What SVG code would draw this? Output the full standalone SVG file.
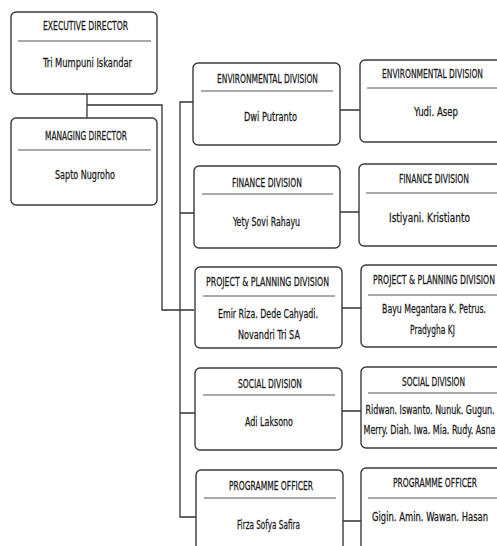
<svg xmlns="http://www.w3.org/2000/svg" width="497" height="546" viewBox="0 0 497 546">
<style>
.box{fill:#fff;stroke:#3a3a3a;stroke-width:1.4}
.div{stroke:#555;stroke-width:1}
.conn{fill:none;stroke:#333;stroke-width:1.3}
text{font-family:"DejaVu Sans Condensed","DejaVu Sans",sans-serif;font-size:12.5px;fill:#1a1a1a;stroke:#1a1a1a;stroke-width:0.25;text-anchor:middle}
</style>
<rect width="497" height="546" fill="#fff"/>
<g id="connectors">
<path class="conn" d="M87,94 V118 M87,105 H162 V310 H194"/>
<path class="conn" d="M194,102 H180 V517 H196"/>
<path class="conn" d="M180,213 H194 M180,413 H195"/>
<path class="conn" d="M340,110 H360 M340,212 H359 M342,308 H361 M342,411 H361 M343,521 H361"/>
</g>
<g id="exec">
<rect class="box" x="11" y="12" width="146" height="82" rx="5"/>
<line class="div" x1="18" y1="41" x2="151" y2="41"/>
<text transform="translate(85.5,30) scale(0.6,1)" textLength="141.7" lengthAdjust="spacingAndGlyphs">EXECUTIVE DIRECTOR</text>
<text transform="translate(87.5,67) scale(0.6,1)" textLength="148.3" lengthAdjust="spacingAndGlyphs">Tri Mumpuni Iskandar</text>
</g>
<g id="managing">
<rect class="box" x="11" y="118" width="146" height="87" rx="5"/>
<line class="div" x1="18" y1="150" x2="151" y2="150"/>
<text transform="translate(86,140) scale(0.6,1)" textLength="136.7" lengthAdjust="spacingAndGlyphs">MANAGING DIRECTOR</text>
<text transform="translate(85,179) scale(0.6,1)" textLength="100" lengthAdjust="spacingAndGlyphs">Sapto Nugroho</text>
</g>
<g id="env-l">
<rect class="box" x="193" y="63" width="147" height="82" rx="5"/>
<line class="div" x1="201" y1="91" x2="333" y2="91"/>
<text transform="translate(267.5,83) scale(0.6,1)" textLength="168.3" lengthAdjust="spacingAndGlyphs">ENVIRONMENTAL DIVISION</text>
<text transform="translate(270.5,121) scale(0.6,1)" textLength="88.3" lengthAdjust="spacingAndGlyphs">Dwi Putranto</text>
</g>
<g id="env-r">
<path class="box" d="M497,60 H365 A5,5 0 0 0 360,65 V137 A5,5 0 0 0 365,142 H497"/>
<line class="div" x1="367" y1="88" x2="497" y2="88"/>
<text transform="translate(432.5,78) scale(0.6,1)" textLength="168.3" lengthAdjust="spacingAndGlyphs">ENVIRONMENTAL DIVISION</text>
<text transform="translate(436,116) scale(0.6,1)" textLength="73.3" lengthAdjust="spacingAndGlyphs">Yudi. Asep</text>
</g>
<g id="fin-l">
<rect class="box" x="194" y="166" width="146" height="82" rx="5"/>
<line class="div" x1="202" y1="194" x2="333" y2="194"/>
<text transform="translate(267,187) scale(0.6,1)" textLength="116.7" lengthAdjust="spacingAndGlyphs">FINANCE DIVISION</text>
<text transform="translate(266.5,226) scale(0.6,1)" textLength="111.7" lengthAdjust="spacingAndGlyphs">Yety Sovi Rahayu</text>
</g>
<g id="fin-r">
<path class="box" d="M497,164 H364 A5,5 0 0 0 359,169 V241 A5,5 0 0 0 364,246 H497"/>
<line class="div" x1="366" y1="193" x2="497" y2="193"/>
<text transform="translate(434,183) scale(0.6,1)" textLength="116.7" lengthAdjust="spacingAndGlyphs">FINANCE DIVISION</text>
<text transform="translate(429.5,222) scale(0.6,1)" textLength="135" lengthAdjust="spacingAndGlyphs">Istiyani. Kristianto</text>
</g>
<g id="proj-l">
<rect class="box" x="195" y="267" width="147" height="81" rx="5"/>
<line class="div" x1="203" y1="296" x2="335" y2="296"/>
<text transform="translate(267.5,286) scale(0.6,1)" textLength="205" lengthAdjust="spacingAndGlyphs">PROJECT &amp; PLANNING DIVISION</text>
<text transform="translate(268,318) scale(0.6,1)" textLength="166.7" lengthAdjust="spacingAndGlyphs">Emir Riza. Dede Cahyadi.</text>
<text transform="translate(269,339) scale(0.6,1)" textLength="103.3" lengthAdjust="spacingAndGlyphs">Novandri Tri SA</text>
</g>
<g id="proj-r">
<path class="box" d="M497,265 H366 A5,5 0 0 0 361,270 V342 A5,5 0 0 0 366,347 H497"/>
<line class="div" x1="368" y1="295" x2="497" y2="295"/>
<text transform="translate(434,284) scale(0.6,1)" textLength="203.3" lengthAdjust="spacingAndGlyphs">PROJECT &amp; PLANNING DIVISION</text>
<text transform="translate(434,313) scale(0.6,1)" textLength="173.3" lengthAdjust="spacingAndGlyphs">Bayu Megantara K. Petrus.</text>
<text transform="translate(432.5,334) scale(0.6,1)" textLength="75" lengthAdjust="spacingAndGlyphs">Pradygha KJ</text>
</g>
<g id="soc-l">
<rect class="box" x="195" y="368" width="147" height="82" rx="5"/>
<line class="div" x1="203" y1="395" x2="335" y2="395"/>
<text transform="translate(270,388) scale(0.6,1)" textLength="106.7" lengthAdjust="spacingAndGlyphs">SOCIAL DIVISION</text>
<text transform="translate(269,426) scale(0.6,1)" textLength="80" lengthAdjust="spacingAndGlyphs">Adi Laksono</text>
</g>
<g id="soc-r">
<path class="box" d="M497,367 H366 A5,5 0 0 0 361,372 V443 A5,5 0 0 0 366,448 H497"/>
<line class="div" x1="368" y1="393" x2="497" y2="393"/>
<text transform="translate(433.5,386) scale(0.6,1)" textLength="105" lengthAdjust="spacingAndGlyphs">SOCIAL DIVISION</text>
<text transform="translate(430,414) scale(0.6,1)" textLength="215" lengthAdjust="spacingAndGlyphs">Ridwan. Iswanto. Nunuk. Gugun.</text>
<text transform="translate(429.5,434) scale(0.6,1)" textLength="220" lengthAdjust="spacingAndGlyphs">Merry. Diah. Iwa. Mia. Rudy. Asna</text>
</g>
<g id="prog-l">
<rect class="box" x="196" y="470" width="147" height="90" rx="5"/>
<line class="div" x1="204" y1="498" x2="336" y2="498"/>
<text transform="translate(271,490) scale(0.6,1)" textLength="140" lengthAdjust="spacingAndGlyphs">PROGRAMME OFFICER</text>
<text transform="translate(268.5,529) scale(0.6,1)" textLength="105" lengthAdjust="spacingAndGlyphs">Firza Sofya Safira</text>
</g>
<g id="prog-r">
<path class="box" d="M497,468 H366 A5,5 0 0 0 361,473 V546"/>
<line class="div" x1="368" y1="498" x2="497" y2="498"/>
<text transform="translate(435,487) scale(0.6,1)" textLength="140" lengthAdjust="spacingAndGlyphs">PROGRAMME OFFICER</text>
<text transform="translate(430,521) scale(0.6,1)" textLength="193.3" lengthAdjust="spacingAndGlyphs">Gigin. Amin. Wawan. Hasan</text>
</g>
</svg>
